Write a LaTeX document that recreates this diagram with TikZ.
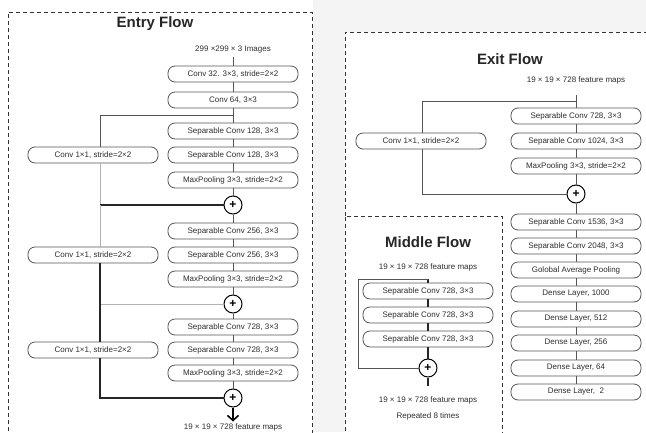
\documentclass[tikz,border=0pt]{standalone}
\usepackage{fontspec}
\setmainfont{Liberation Sans}
\usetikzlibrary{positioning}
\usetikzlibrary{arrows.meta}
\definecolor{linegray}{HTML}{555555}
\definecolor{txtgray}{HTML}{2E2E2E}
\definecolor{bggray}{HTML}{F4F4F4}
\tikzset{
    layer/.style = {rectangle, rounded corners=7pt, draw=linegray, line width=0.8pt, fill=white, minimum width=130pt, minimum height=16pt, inner sep=0pt, font=\fontsize{8}{9}\selectfont, text=txtgray},
    plusnode/.style = {circle, draw=black, line width=1pt, fill=white, minimum size=18pt, inner sep=0pt, font=\bfseries\fontsize{12}{12}\selectfont, text=black},
    lbl/.style = {font=\fontsize{8}{9}\selectfont, text=txtgray},
    ttl/.style = {font=\bfseries\fontsize{15}{16}\selectfont, text=black!85},
    edgen/.style = {-, line width=0.6pt, linegray},
    edgel/.style = {-, line width=0.6pt, gray!60},
    edgek/.style = {-, line width=1.1pt, black!85},
    edgea/.style = {-{Straight Barb[length=5pt,width=11pt]}, line width=1.6pt, black},
    dashbox/.style = {dashed, dash pattern=on 4pt off 3pt, line width=1pt, black!80}, % panel frames
}

\begin{document}
\begin{tikzpicture}[x=1pt,y=-1pt]
\useasboundingbox (0,0) rectangle (646,432);
\fill[bggray] (313,0) rectangle (646,432);
\fill[white] (345,32) rectangle (646,432);

% frames
\draw[dashbox] (8,445) -- (8,12) -- (312,12) -- (312,445);
\draw[dashbox] (345,216) -- (345,32) -- (660,32);
\draw[dashbox] (345,445) -- (345,216) -- (502,216) -- (502,445);

% entry flow
\node[ttl] at (155,24) (et) {Entry Flow};
\node[lbl] at (233,50) (ein) {299 ×299 × 3 Images};
\node[layer] at (233,74) (c32) {Conv 32. 3×3, stride=2×2};
\node[layer] at (233,100) (c64) {Conv 64, 3×3};
\node[layer] at (233,131) (s1) {Separable Conv 128, 3×3};
\node[layer] at (233,155) (s2) {Separable Conv 128, 3×3};
\node[layer] at (233,180) (m1) {MaxPooling 3×3, stride=2×2};
\node[plusnode] at (233,205) (p1) {+};
\node[layer] at (93,155) (k1) {Conv 1×1, stride=2×2};
\node[layer] at (233,231) (s3) {Separable Conv 256, 3×3};
\node[layer] at (233,255) (s4) {Separable Conv 256, 3×3};
\node[layer] at (233,279) (m2) {MaxPooling 3×3, stride=2×2};
\node[plusnode] at (233,304) (p2) {+};
\node[layer] at (93,255) (k2) {Conv 1×1, stride=2×2};
\node[layer] at (233,327) (s5) {Separable Conv 728, 3×3};
\node[layer] at (233,350) (s6) {Separable Conv 728, 3×3};
\node[layer] at (233,373) (m3) {MaxPooling 3×3, stride=2×2};
\node[plusnode] at (233,398) (p3) {+};
\node[layer] at (93,350) (k3) {Conv 1×1, stride=2×2};
\node[lbl, anchor=north, inner sep=1pt] at (233,422.5) (eout) {19 × 19 × 728 feature maps};
\coordinate (b1) at (233,115);
\coordinate (r1) at (100,115);
\coordinate (r2) at (100,205);
\coordinate (r3) at (100,304);
\coordinate (ea) at (233,421.5);

\draw[edgen] (ein) -- (c32);
\draw[edgen] (c32) -- (c64);
\draw[edgen] (c64) -- (s1);
\draw[edgen] (s1) -- (s2);
\draw[edgen] (s2) -- (m1);
\draw[edgen] (m1) -- (p1);
\draw[edgen] (p1) -- (s3);
\draw[edgen] (s3) -- (s4);
\draw[edgen] (s4) -- (m2);
\draw[edgen] (m2) -- (p2);
\draw[edgen] (p2) -- (s5);
\draw[edgen] (s5) -- (s6);
\draw[edgen] (s6) -- (m3);
\draw[edgen] (m3) -- (p3);
\draw[edgea] (p3) -- (ea);

\draw[edgen] (b1) -- (r1) -- (r1 |- k1.north);
\draw[edgel] (r1 |- k1.south) -- (r2);
\draw[edgek] (r2) -- (p1);
\draw[edgel] (r2) -- (r2 |- k2.north);
\draw[edgek] (r2 |- k2.south) -- (r3);
\draw[edgel] (r3) -- (p2);
\draw[edgek] (r3) -- (r3 |- k3.north);
\draw[edgek] (r3 |- k3.south) -- (r3 |- p3) -- (p3);

% exit flow
\node[ttl] at (510,59) (xt) {Exit Flow};
\node[lbl] at (576,80) (xin) {19 × 19 × 728 feature maps};
\node[layer] at (576,116) (xs1) {Separable Conv 728, 3×3};
\node[layer] at (576,141) (xs2) {Separable Conv 1024, 3×3};
\node[layer] at (576,166) (xm) {MaxPooling 3×3, stride=2×2};
\node[plusnode] at (576,194) (xp) {+};
\node[layer] at (421,141) (xk) {Conv 1×1, stride=2×2};
\node[layer] at (576,222) (xs3) {Separable Conv 1536, 3×3};
\node[layer] at (576,246) (xs4) {Separable Conv 2048, 3×3};
\node[layer] at (576,270) (xg) {Golobal Average Pooling};
\node[layer] at (576,294) (d1) {Dense Layer, 1000};
\node[layer] at (576,319) (d2) {Dense Layer, 512};
\node[layer] at (576,343) (d3) {Dense Layer, 256};
\node[layer] at (576,368) (d4) {Dense Layer, 64};
\node[layer] at (576,392) (d5) {Dense Layer,\ \ 2};
\coordinate (xb0) at (576,95);
\coordinate (xb1) at (576,101);
\coordinate (xr1) at (422,101);

\draw[edgen] (xb0) -- (xs1);
\draw[edgen] (xs1) -- (xs2);
\draw[edgen] (xs2) -- (xm);
\draw[edgen] (xm) -- (xp);
\draw[edgen] (xp) -- (xs3);
\draw[edgen] (xs3) -- (xs4);
\draw[edgen] (xs4) -- (xg);
\draw[edgen] (xg) -- (d1);
\draw[edgen] (d1) -- (d2);
\draw[edgen] (d2) -- (d3);
\draw[edgen] (d3) -- (d4);
\draw[edgen] (d4) -- (d5);
\draw[edgen] (xb1) -- (xr1) -- (xr1 |- xk.north);
\draw[edgen] (xr1 |- xk.south) -- (xr1 |- xp) -- (xp);

% middle flow
\node[ttl] at (428,242) (mt) {Middle Flow};
\node[lbl] at (428,267) (min) {19 × 19 × 728 feature maps};
\node[layer] at (428,291) (ms1) {Separable Conv 728, 3×3};
\node[layer] at (428,315) (ms2) {Separable Conv 728, 3×3};
\node[layer] at (428,339) (ms3) {Separable Conv 728, 3×3};
\node[plusnode] at (428,368) (mp) {+};
\node[lbl] at (428,400) (mout) {19 × 19 × 728 feature maps};
\node[lbl] at (428,416) (mrep) {Repeated 8 times};
\coordinate (mb1) at (428,279);
\coordinate (mr1) at (358,279);
\coordinate (me) at (428,386);

\draw[edgek] (mb1) -- (ms1);
\draw[edgek] (ms1) -- (ms2);
\draw[edgek] (ms2) -- (ms3);
\draw[edgek] (ms3) -- (mp);
\draw[edgek] (mp) -- (me);
\draw[edgen] (mb1) -- (mr1) |- (mp);

\end{tikzpicture}
\end{document}
